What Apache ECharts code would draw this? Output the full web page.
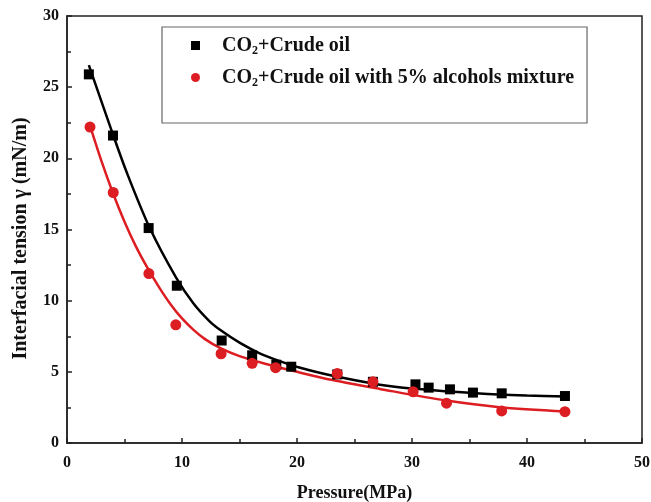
<!DOCTYPE html>
<html><head><meta charset="utf-8">
<script src="https://cdn.jsdelivr.net/npm/echarts@6/dist/echarts.min.js"></script>
<style>html,body{margin:0;padding:0;background:#fff}#c{width:651px;height:502px}</style>
</head><body><div id="c"></div>
<script>
const seriesNames = ['CO2+Crude oil', 'CO2+Crude oil with 5% alcohols mixture'];
const xTicks = [0, 10, 20, 30, 40, 50];
const yTicks = [0, 5, 10, 15, 20, 25, 30];
// measured points
const crudeX = [1.9, 4.0, 7.1, 9.55, 13.45, 16.1, 18.2, 19.5, 23.5, 26.6, 30.3, 31.45, 33.3, 35.3, 37.8, 43.3];
const crudeY = [25.9, 21.6, 15.1, 11.05, 7.2, 6.16, 5.5, 5.36, 4.82, 4.3, 4.12, 3.89, 3.77, 3.54, 3.49, 3.3];
const alcX = [2.0, 4.02, 7.12, 9.46, 13.4, 16.1, 18.14, 23.5, 26.6, 30.1, 33.0, 37.8, 43.3];
const alcY = [22.2, 17.6, 11.9, 8.3, 6.27, 5.6, 5.29, 4.88, 4.3, 3.6, 2.8, 2.25, 2.2];
// fitted curves
const crudeFitX = [1.9, 3.9, 5.2, 7.2, 9.5, 11, 12.4, 13.4, 15, 16.75, 18.5, 20.2, 23.1, 27.2, 30, 35.9, 40, 43.4];
const crudeFitY = [26.55, 21.9, 19.0, 15.1, 11.6, 9.8, 8.55, 7.9, 7.05, 6.3, 5.75, 5.3, 4.72, 4.1, 3.83, 3.48, 3.34, 3.27];
const alcFitX = [2.0, 3, 4, 5, 6, 7, 8, 9, 10, 11, 12, 13.3, 15, 17.3, 20, 23.1, 27.2, 33, 37.6, 43.4];
const alcFitY = [22.3, 19.8, 17.55, 15.55, 13.8, 12.3, 10.95, 9.75, 8.75, 7.95, 7.3, 6.68, 6.1, 5.55, 5.0, 4.42, 3.8, 2.98, 2.52, 2.22];

const RED = '#dc1d22';
const FONT = '"Liberation Serif","Times New Roman",serif';
const zip = (a, b) => a.map((v, i) => [v, b[i]]);

const chart = echarts.init(document.getElementById('c'));
const axisCommon = {
  axisLine: {show: true, onZero: false, lineStyle: {color: '#222', width: 1.5}},
  axisTick: {show: true, inside: true, length: 5, lineStyle: {color: '#222', width: 1.5}},
  minorTick: {show: true, splitNumber: 2, length: 4, lineStyle: {color: '#222', width: 1.5}},
  splitLine: {show: false},
  axisLabel: {color: '#111', fontFamily: FONT, fontWeight: 'bold', fontSize: 16},
  nameTextStyle: {color: '#111', fontFamily: FONT, fontWeight: 'bold', fontSize: 18}
};
const legendLabel = {
  [seriesNames[0]]: '{a|CO}{s|2}{a|+Crude oil}',
  [seriesNames[1]]: '{a|CO}{s|2}{a|+Crude oil with 5% alcohols mixture}'
};
chart.setOption({
  animation: false,
  backgroundColor: '#fff',
  grid: {left: 67, right: 9, top: 16, bottom: 59, show: true, borderColor: '#222', borderWidth: 1.5,
         containLabel: false, outerBoundsMode: 'none'},
  legend: {
    data: [{name: seriesNames[0], icon: 'rect'}, {name: seriesNames[1], icon: 'circle'}],
    orient: 'vertical', left: 162, top: 27,
    padding: [7, 13, 34, 29],
    itemGap: 9, itemWidth: 9, itemHeight: 9,
    borderColor: '#666', borderWidth: 1.2,
    formatter: n => legendLabel[n],
    textStyle: {
      padding: [0, 0, 0, 17],
      rich: {
        a: {fontFamily: FONT, fontWeight: 'bold', fontSize: 20, color: '#111', lineHeight: 23},
        s: {fontFamily: FONT, fontWeight: 'bold', fontSize: 12, color: '#111', padding: [11, 0, 0, 0], lineHeight: 23}
      }
    }
  },
  xAxis: Object.assign({}, axisCommon, {
    type: 'value', min: xTicks[0], max: xTicks[xTicks.length - 1], interval: 10,
    name: 'Pressure(MPa)', nameLocation: 'middle', nameGap: 41,
    axisLabel: Object.assign({}, axisCommon.axisLabel, {margin: 12})
  }),
  yAxis: Object.assign({}, axisCommon, {
    type: 'value', min: yTicks[0], max: yTicks[yTicks.length - 1], interval: 5,
    name: 'Interfacial tension γ (mN/m)', nameLocation: 'middle', nameGap: 36,
    nameTextStyle: Object.assign({}, axisCommon.nameTextStyle, {fontSize: 20, padding: [0, 18, 0, 0]}),
    axisLabel: Object.assign({}, axisCommon.axisLabel, {margin: 8})
  }),
  series: [
    {name: seriesNames[0] + ' fit', type: 'line', smooth: 0.3, symbol: 'none', data: zip(crudeFitX, crudeFitY),
     lineStyle: {color: '#000', width: 2.5}, z: 2},
    {name: seriesNames[1] + ' fit', type: 'line', smooth: 0.3, symbol: 'none', data: zip(alcFitX, alcFitY),
     lineStyle: {color: RED, width: 2.5}, z: 2},
    {name: seriesNames[0], type: 'scatter', symbol: 'rect', symbolSize: 10, data: zip(crudeX, crudeY),
     itemStyle: {color: '#000', opacity: 1}, z: 3},
    {name: seriesNames[1], type: 'scatter', symbol: 'circle', symbolSize: 11, data: zip(alcX, alcY),
     itemStyle: {color: RED, opacity: 1}, z: 4}
  ]
});
</script></body></html>
